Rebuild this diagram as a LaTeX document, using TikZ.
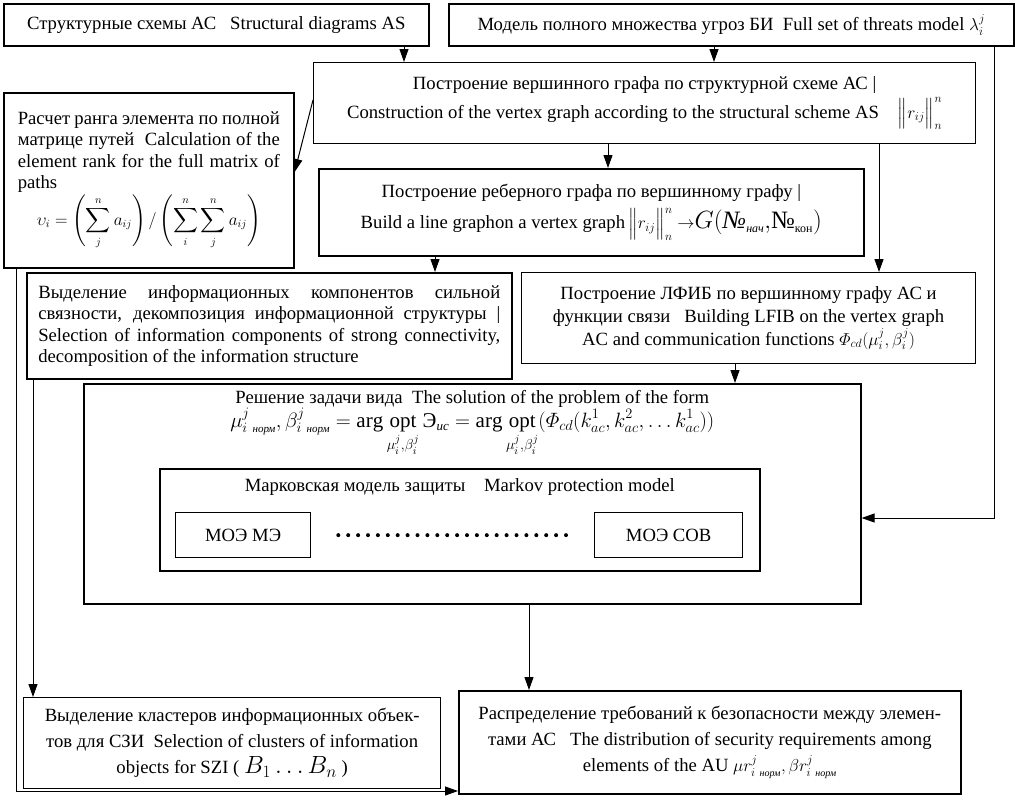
\documentclass[tikz,border=0pt]{standalone}
\usepackage{amsmath}
\usepackage{fontspec}
\setmainfont{Liberation Serif}
\usetikzlibrary{arrows.meta}
\newcommand\fsz[2]{\fontsize{#1}{#2}\selectfont}
\begin{document}
\begin{tikzpicture}[x=1pt,y=-1pt,
  box/.style={draw, line width=1.6pt, inner sep=5pt, anchor=north west, align=center, font=\fsz{18.67}{21.5}},
  thinbox/.style={box, line width=1.1pt},
  arr/.style={-{Triangle[width=9pt,length=13pt]}, line width=1pt}]
\useasboundingbox (0,0) rectangle (1015,801);
\fill[white] (0,0) rectangle (1015,801);

\node[box, minimum width=425, minimum height=42] (A) at (3,3)
  {Структурные схемы АС\ \ \ Structural diagrams AS};
\node[box, minimum width=565, minimum height=42] (B) at (448,3)
  {Модель полного множества угроз БИ\ \ Full set of threats model $\lambda_i^j$};
\node[thinbox, minimum width=662, minimum height=81, font=\fsz{18.67}{29}] (C) at (313,62)
  {Построение вершинного графа по структурной схеме АС |\\
   Construction of the vertex graph according to the structural scheme AS\ \ \ \ $\Big\|r_{ij}\Big\|_n^n$};
\node[box, minimum width=290, minimum height=175, text width=262, align=justify] (R) at (3,92)
  {Расчет ранга элемента по полной\linebreak матрице путей\ \ Calculation of the\linebreak element rank for the full matrix of\linebreak paths\par\vspace{1pt}\noindent\makebox[\linewidth]{\fsz{16}{18}$\displaystyle \upsilon_i=\left(\sum_{j}^{n}a_{ij}\right)/\left(\sum_{i}^{n}\sum_{j}^{n}a_{ij}\right)$}};
\node[box, minimum width=545, minimum height=87, font=\fsz{18.67}{24}] (L) at (318,168)
  {Построение реберного графа по вершинному графу |\\[6pt]
   Build a line graphon a vertex graph\,$\Big\|r_{ij}\Big\|_n^n\rightarrow$\mbox{\fsz{25}{25}$G($\itshape №$_{\mbox{\fsz{12}{12}\itshape нач}},$\upshape№$_{\mbox{\fsz{12}{12}кон}})$}};
\node[box, minimum width=485, minimum height=106, text width=462, align=justify] (S) at (26,272)
  {Выделение информационных компонентов сильной\linebreak связности, декомпозиция информационной структуры |\linebreak Selection of information components of strong connectivity,\linebreak decomposition of the information structure};
\node[thinbox, minimum width=454, minimum height=91, font=\fsz{18.67}{23}] (F) at (521,272)
  {Построение ЛФИБ по вершинному графу АС и\\ функции связи\ \ \ Building LFIB on the vertex graph\\ AC and communication functions $\varPhi_{cd}(\mu_i^j,\beta_i^j)$};
\node[box, minimum width=777, minimum height=220] (P) at (83,383) {};
\node[anchor=north, align=center, font=\fsz{18.67}{24}, inner sep=0pt] (Pt) at ([yshift=-7pt]P.north)
  {Решение задачи вида\ \ The solution of the problem of the form\\
   \fsz{21}{24}$\displaystyle \mu^{j}_{i\ \mbox{\fsz{11}{11}\itshape норм}},\beta^{j}_{i\ \mbox{\fsz{11}{11}\itshape норм}}=\arg\operatorname*{opt}_{\mu_i^j,\beta_i^j}\mbox{Э}_{\mbox{\fsz{13}{13}\itshape ис}}=\arg\operatorname*{opt}_{\mu_i^j,\beta_i^j}(\varPhi_{cd}(k^1_{ac},k^2_{ac},\dots k^1_{ac}))$};
\node[box, minimum width=600, minimum height=102] (M) at (159,468) {};
\node[anchor=north, font=\fsz{18.67}{22}, inner sep=0pt] (Mt) at ([yshift=-10pt]M.north)
  {Марковская модель защиты\ \ \ \ Markov protection model};
\node[box, line width=1.3pt, minimum width=135, minimum height=45] (M1) at (175,512) {МОЭ МЭ};
\node[box, line width=1.3pt, minimum width=148, minimum height=45] (M2) at (594,512) {МОЭ СОВ};
\draw[line width=4pt, line cap=round, dash pattern=on 0pt off 9.9pt] ([xshift=27pt]M1.east) -- ([xshift=-20pt]M2.west);
\node[box, line width=1.3pt, minimum width=417, minimum height=91, font=\fsz{18.67}{26}] (K) at (23,697)
  {Выделение кластеров информационных объек-\\ тов для СЗИ\ \ Selection of clusters of information\\ objects for SZI ( \mbox{\fsz{23}{23}$B_1\dots B_n$} )};
\node[box, minimum width=502, minimum height=103, font=\fsz{18.67}{26}] (D) at (458,690)
  {Распределение требований к безопасности между элемен-\\ тами АС\ \ \ The distribution of security requirements among\\ elements of the AU $\mu r^{j}_{i\ \mbox{\fsz{10}{10}\itshape норм}},\beta r^{j}_{i\ \mbox{\fsz{10}{10}\itshape норм}}$};

\draw[arr] (404,0 |- A.south) -- (404,0 |- C.north);
\draw[arr] (714,0 |- B.south) -- (714,0 |- C.north);
\draw[arr] (C.west |- 0,100) -- (R.east |- 0,172);
\draw[arr] (608,0 |- C.south) -- (608,0 |- L.north);
\draw[arr] (879,0 |- C.south) -- (879,0 |- F.north);
\draw[arr] (435,0 |- L.south) -- (435,0 |- S.north);
\draw[arr] (735,0 |- F.south) -- (735,0 |- P.north);
\draw[arr] (529,0 |- P.south) -- (529,0 |- D.north);
\draw[arr] (33,0 |- S.south) -- (33,0 |- K.north);
\draw[arr] (16,0 |- R.south) -- (16,791) -- (D.west |- 0,791);
\draw[arr] (994,0 |- B.south) -- (994,518) -- (P.east |- 0,518);
\end{tikzpicture}
\end{document}
